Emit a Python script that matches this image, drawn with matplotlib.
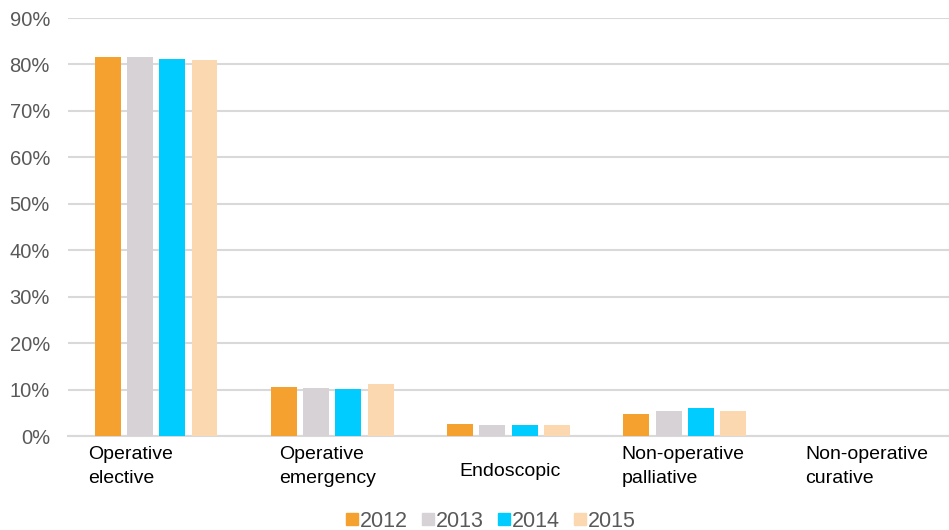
import matplotlib
matplotlib.use("Agg")
import matplotlib.pyplot as plt
import matplotlib.transforms as mtransforms
from matplotlib.lines import Line2D
import numpy as np

categories = ["Operative\nelective", "Operative\nemergency", "Endoscopic",
              "Non-operative\npalliative", "Non-operative\ncurative"]
years = ["2012", "2013", "2014", "2015"]
values = {
    "2012": [81.7, 10.6, 2.6, 4.7, 0.0],
    "2013": [81.6, 10.3, 2.4, 5.4, 0.0],
    "2014": [81.2, 10.1, 2.4, 6.0, 0.0],
    "2015": [81.0, 11.2, 2.4, 5.4, 0.0],
}
colors = ["#F4A12F", "#D6D2D5", "#00CCFF", "#FBD8B0"]
yticks = [0, 10, 20, 30, 40, 50, 60, 70, 80, 90]

plt.rcParams['font.family'] = ['Liberation Sans', 'DejaVu Sans']

fig = plt.figure(figsize=(9.49, 5.30), dpi=100)
ax = fig.add_axes([68/949, 94/530, 1 - 68/949, (436-18)/530])

x = np.arange(len(categories))
step = 0.183
width = 0.147
for i, (yr, c) in enumerate(zip(years, colors)):
    ax.bar(x + (i - 1.5) * step, values[yr], width=width, color=c, zorder=3)

ax.set_xlim(-0.5, len(categories) - 0.5)
ax.set_ylim(0, 90)
ax.set_yticks(yticks)
ax.set_yticklabels([f"{t}%" for t in yticks], color="#595959", fontsize=14.5)
ax.set_xticks(x)
ax.set_xticklabels(categories, fontsize=14, color="black",
                   multialignment="left", linespacing=1.55)
ax.tick_params(axis="y", length=0, pad=13)
ax.tick_params(axis="x", length=0, pad=7)
ax.yaxis.grid(True, color="#D9D9D9", linewidth=1.5, zorder=0)
for s in ["top", "right", "left"]:
    ax.spines[s].set_visible(False)
ax.spines["bottom"].set_color("#D9D9D9")
ax.spines["bottom"].set_linewidth(1.5)

offsets_px = [(-26, 0), (-5, 0), (1, -17), (-2, 0), (6, 0)]
for lbl, (dx, dy) in zip(ax.get_xticklabels(), offsets_px):
    lbl.set_transform(lbl.get_transform() +
                      mtransforms.ScaledTranslation(dx / 100, dy / 100, fig.dpi_scale_trans))

handles = [Line2D([0], [0], marker="s", linestyle="none", markersize=9,
                  markerfacecolor=c, markeredgecolor=c) for c in colors]
fig.legend(handles, years, loc="lower center", bbox_to_anchor=(0.517, -0.04),
           ncol=4, frameon=False, fontsize=15.5, handlelength=0.6,
           handletextpad=0.1, columnspacing=0.6, labelcolor="#595959")

fig.savefig("out.png", dpi=100)
